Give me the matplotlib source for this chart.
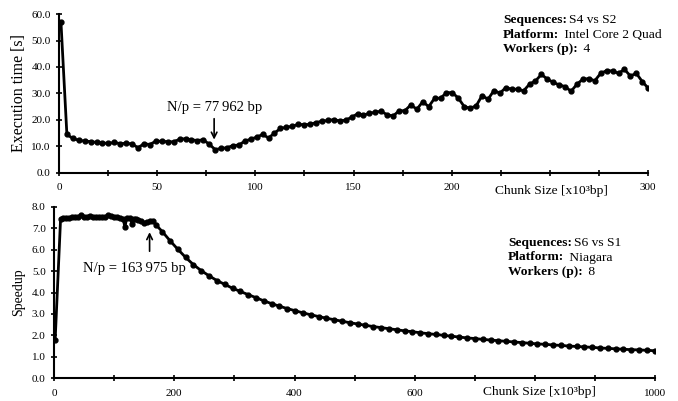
import matplotlib
matplotlib.use("Agg")
import matplotlib.pyplot as plt
import numpy as np

plt.rcParams['font.family'] = ['Liberation Serif', 'DejaVu Serif']

# --- top panel: execution time vs chunk size (x10^3 bp)
top_x = np.linspace(1, 300, 100)
top_time = [
    57.0, 14.5, 13.0, 12.3, 12.0, 11.8, 11.5, 11.3, 11.1, 11.5, 11.0, 11.2,
    10.9, 9.5, 11.0, 10.7, 12.0, 11.9, 11.8, 11.7, 12.7, 12.9, 12.5, 12.2,
    12.5, 10.8, 8.8, 9.2, 9.5, 10.3, 10.5, 12.0, 12.7,
    13.5, 14.5, 13.2, 15.0, 16.8, 17.2, 17.6, 18.3, 18.2, 18.3, 19.0, 19.5,
    19.8, 20.1,
    19.6, 19.9, 21.0, 22.3, 21.8, 22.5, 22.9, 23.3, 21.9, 21.5, 23.4, 23.5,
    25.7, 24.0, 26.9, 25.0, 28.2, 28.2, 30.3, 30.3, 28.2, 25.0, 24.4, 25.3,
    29.2, 27.8, 31.1, 30.1, 32.2, 31.6, 31.6, 31.0, 33.5, 34.7, 37.2, 35.4,
    34.2, 33.2, 32.6, 30.8, 33.5, 35.4, 35.6, 34.8, 37.6, 38.6, 38.5, 37.6,
    39.1, 36.6, 37.6, 34.5,
    32.0,
]
top_ticks = [0, 50, 100, 150, 200, 250, 300]
top_ticklabels = ['0', '50', '100', '150', '200', '', '300']
top_info = [("Sequences:", "S4 vs S2"),
            ("Platform:", " Intel Core 2 Quad"),
            ("Workers (p):", " 4")]
top_note = "N/p = 77\u2009962 bp"
top_note_x = 79

# --- bottom panel: speedup vs chunk size
plateau_x = [2, 11, 15, 20, 25, 30, 35, 40, 45, 50, 55, 60, 65, 70, 75, 80,
             85, 90, 95, 100, 105, 110, 115, 118, 121, 126, 130, 133, 136,
             140, 145, 150, 155, 160, 165, 170]
plateau_speedup = [1.8, 7.45, 7.5, 7.5, 7.5, 7.52, 7.55, 7.55, 7.6, 7.55,
                   7.55, 7.58, 7.55, 7.55, 7.52, 7.55, 7.55, 7.6, 7.58, 7.55,
                   7.55, 7.5, 7.45, 7.05, 7.5, 7.5, 7.2, 7.45, 7.42, 7.4,
                   7.35, 7.25, 7.28, 7.35, 7.35, 7.15]
tail_x = list(range(180, 1000, 13))
tail_speedup = [
    6.85, 6.42, 6.02, 5.64, 5.30, 5.02, 4.78, 4.56, 4.38, 4.20, 4.05, 3.90,
    3.76, 3.61, 3.48, 3.36, 3.25, 3.15, 3.05, 2.96, 2.88, 2.80, 2.73, 2.66,
    2.59, 2.53, 2.47, 2.41, 2.36, 2.31, 2.26, 2.21, 2.17, 2.12, 2.08, 2.04,
    2.00, 1.96, 1.92, 1.88, 1.85, 1.81, 1.78, 1.75, 1.72, 1.69, 1.66, 1.63,
    1.60, 1.58, 1.55, 1.53, 1.50, 1.48, 1.46, 1.44, 1.41, 1.39, 1.37, 1.35,
    1.33, 1.32, 1.30, 1.28,
]
bot_ticks = [0, 200, 400, 600, 800, 1000]
bot_ticklabels = ['0', '200', '400', '600', '', '1000']
bot_info = [("Sequences:", "S6 vs S1"),
            ("Platform:", " Niagara"),
            ("Workers (p):", " 8")]
bot_note = "N/p = 163\u2009975 bp"
bot_note_x = 159

bot_x = plateau_x + tail_x
bot_speedup = plateau_speedup + tail_speedup

XLABEL = "Chunk Size [x10\u00b3bp]"
W, H = 678, 401


def style_axes(ax):
    for s in ('top', 'right'):
        ax.spines[s].set_visible(False)
    for s in ('left', 'bottom'):
        ax.spines[s].set_linewidth(1.5)
    ax.tick_params(axis='both', which='both', direction='inout', width=1.2,
                   labelsize=8, length=5)
    ax.tick_params(axis='x', which='both', pad=5)


def info_block(fig, items, x_px, y_px, step=14.5):
    # labels in bold, values right after them on the same baseline
    labels = []
    for i, (lbl, val) in enumerate(items):
        t = fig.text(x_px / W, 1 - (y_px + i * step) / H, lbl, fontsize=9.7,
                     fontweight='bold', ha='left', va='baseline')
        labels.append(t)
    fig.canvas.draw()
    r = fig.canvas.get_renderer()
    for t, (lbl, val) in zip(labels, items):
        bb = t.get_window_extent(r)
        x0, y0 = t.get_position()
        fig.text((bb.x1 + 2) / W, y0, val, fontsize=9.7, ha='left',
                 va='baseline')


fig = plt.figure(figsize=(6.78, 4.01), dpi=100)

# top
ax1 = fig.add_axes([0.087, 0.569, 0.869, 0.396])
ax1.plot(top_x, top_time, color='black', lw=2, marker='o', ms=3.5)
ax1.set_xlim(0, 300)
ax1.set_ylim(0, 60)
ax1.set_xticks(top_ticks)
ax1.set_xticklabels(top_ticklabels)
ax1.set_xticks(np.arange(25, 300, 50), minor=True)
ax1.set_yticks(np.arange(0, 61, 10))
ax1.set_yticklabels(['%.1f' % v for v in np.arange(0, 61, 10)])
ax1.set_ylabel("Execution time [s]", fontsize=11.5, labelpad=3)
style_axes(ax1)
ax1.annotate(XLABEL, xy=(251, 0), xycoords=('data', 'axes fraction'),
             xytext=(0, -13), textcoords='offset points', fontsize=9.7,
             ha='center', va='center')
ax1.annotate("", xy=(top_note_x, 11.5), xytext=(top_note_x, 21.5),
             arrowprops=dict(arrowstyle='->', color='black', lw=1.2))
ax1.text(top_note_x, 24.8, top_note, fontsize=10.5, ha='center',
         va='center')

# bottom
ax2 = fig.add_axes([0.0796, 0.057, 0.887, 0.427])
ax2.plot(bot_x, bot_speedup, color='black', lw=2, marker='o', ms=3.5)
ax2.set_xlim(0, 1000)
ax2.set_ylim(0, 8)
ax2.set_xticks(bot_ticks)
ax2.set_xticklabels(bot_ticklabels)
ax2.set_xticks(np.arange(100, 1000, 200), minor=True)
ax2.set_yticks(np.arange(0, 8.1, 1))
ax2.set_yticklabels(['%.1f' % v for v in np.arange(0, 8.1, 1)])
ax2.set_ylabel("Speedup", fontsize=10, labelpad=5)
style_axes(ax2)
ax2.annotate(XLABEL, xy=(808, 0), xycoords=('data', 'axes fraction'),
             xytext=(0, -10), textcoords='offset points', fontsize=9.7,
             ha='center', va='center')
ax2.annotate("", xy=(bot_note_x, 6.95), xytext=(bot_note_x, 5.8),
             arrowprops=dict(arrowstyle='->', color='black', lw=1.2))
ax2.text(133, 5.1, bot_note, fontsize=10.5, ha='center', va='center')

info_block(fig, top_info, 503, 23)
info_block(fig, bot_info, 508, 246)

fig.savefig("out.png", dpi=100)
